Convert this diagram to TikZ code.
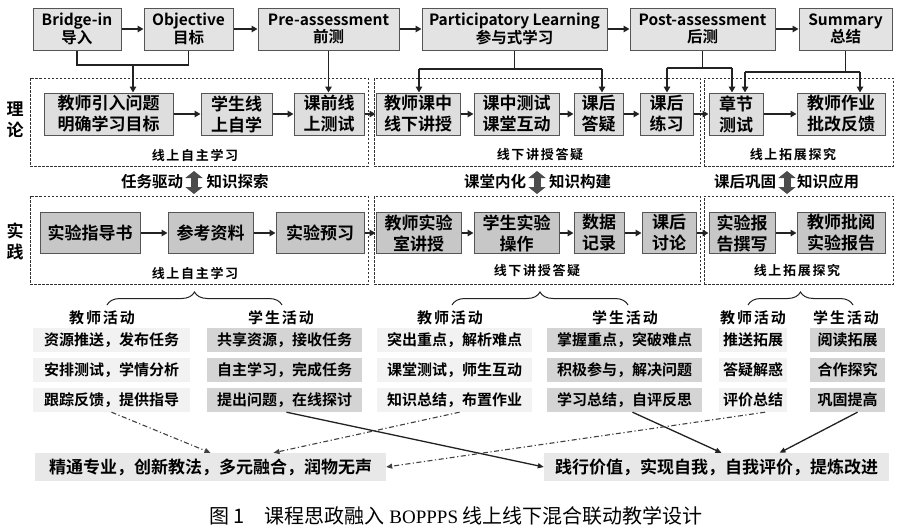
\documentclass[tikz,border=0pt]{standalone}
\usepackage{fontspec}
\setmainfont{Noto Sans CJK SC}[BoldFont=* Bold]
\newfontfamily\kaifont{Noto Sans CJK SC}[LetterSpace=13,BoldFont=* Bold]
\newfontfamily\serifl{Liberation Serif}
\usetikzlibrary{arrows.meta,decorations.pathreplacing,calc}
\definecolor{bordc}{HTML}{555555}
\definecolor{lnc}{HTML}{222222}
\tikzset{
  conn/.style={draw=lnc, line width=1.8pt},
  arr/.style={conn, -{Triangle[length=6pt,width=6.5pt]}},
  topbox/.style={draw=bordc, line width=1pt, fill=black!11, inner sep=0pt, minimum height=42pt, align=center, font=\bfseries\fontsize{15.5}{17.5}\selectfont},
  thbox/.style={draw=bordc, line width=1pt, fill=black!13, inner sep=0pt, minimum height=42pt, align=center, font=\bfseries\fontsize{17}{21}\selectfont},
  prbox/.style={thbox, fill=black!22, minimum height=41pt},
  region/.style={draw=black!80, dash pattern=on 2.5pt off 1.5pt, line width=0.8pt, minimum height=88pt, inner sep=0pt},
  seclabel/.style={font=\kaifont\bfseries\fontsize{13}{13}\selectfont},
  midlabel/.style={font=\bfseries\fontsize{15.5}{15.5}\selectfont},
  sidelabel/.style={font=\bfseries\fontsize{17}{17}\selectfont},
  dbl/.style={draw=black!70, line width=7pt, {Triangle[width=17pt,length=7pt]}-{Triangle[width=17pt,length=7pt]}},
  brc/.style={draw=lnc, line width=1pt, decorate, decoration={brace, amplitude=13pt}},
  acthead/.style={font=\kaifont\bfseries\fontsize{15}{15}\selectfont},
  tact/.style={fill=black!5, inner sep=0pt, minimum height=24pt, font=\bfseries\fontsize{15}{15}\selectfont},
  sact/.style={tact, fill=black!17},
  botbox/.style={fill=black!9, inner sep=0pt, minimum height=28pt, font=\bfseries\fontsize{17}{17}\selectfont},
  dashdot/.style={draw=black!75, line width=1.1pt, dash pattern=on 5pt off 2.5pt on 1.2pt off 2.5pt, -{Triangle[length=6pt,width=5pt]}},
  solidarr/.style={draw=lnc, line width=1.3pt, -{Triangle[length=6pt,width=5pt]}}
}
\begin{document}
\begin{tikzpicture}[x=1pt,y=-1pt]
\useasboundingbox (0,0) rectangle (913,530);
\fill[white] (0,0) rectangle (913,530);

% ---------- top row ----------
\node[topbox, minimum width=88pt]  (bri) at (77,29)    {Bridge-in\\导入};
\node[topbox, minimum width=89pt]  (obj) at (188.5,29) {Objective\\目标};
\node[topbox, minimum width=141pt] (pre) at (328.5,29) {Pre-assessment\\前测};
\node[topbox, minimum width=185pt] (par) at (514.5,29) {Participatory Learning\\参与式学习};
\node[topbox, minimum width=145pt] (pos) at (702.5,29) {Post-assessment\\后测};
\node[topbox, minimum width=93pt]  (sum) at (845.5,29) {Summary\\总结};
\draw[arr] (bri) -- (obj);
\draw[arr] (obj) -- (pre);
\draw[arr] (pre) -- (par);
\draw[arr] (par) -- (pos);
\draw[arr] (pos) -- (sum);

% ---------- regions ----------
\node[region, minimum width=338pt] (r1) at (199,122) {};
\node[region, minimum width=326pt] (r2) at (537,122) {};
\node[region, minimum width=189pt] (r3) at (798.5,122) {};
\node[region, minimum width=338pt] (q1) at (199,240) {};
\node[region, minimum width=326pt] (q2) at (537,240) {};
\node[region, minimum width=189pt] (q3) at (798.5,240) {};

% ---------- theory boxes ----------
\node[thbox, minimum width=129pt] (t1) at (108.5,114) {教师引入问题\\明确学习目标};
\node[thbox, minimum width=71pt]  (t2) at (236.5,114) {学生线\\上自学};
\node[thbox, minimum width=70pt]  (t3) at (329,114)   {课前线\\上测试};
\node[thbox, minimum width=84pt]  (t4) at (418,114)   {教师课中\\线下讲授};
\node[thbox, minimum width=85pt]  (t5) at (516.5,114) {课中测试\\课堂互动};
\node[thbox, minimum width=49pt]  (t6) at (598.5,114) {课后\\答疑};
\node[thbox, minimum width=53pt]  (t7) at (666.5,114) {课后\\练习};
\node[thbox, minimum width=54pt]  (t8) at (736,114)   {章节\\测试};
\node[thbox, minimum width=88pt]  (t9) at (841,114)   {教师作业\\批改反馈};
\foreach \a/\b in {t1/t2,t2/t3,t3/t4,t4/t5,t5/t6,t6/t7,t7/t8,t8/t9}
  \draw[arr] (\a) -- (\b);

% connectors from top row
\coordinate (j1) at (133,65);
\draw[conn] (bri.south) |- (j1);
\draw[conn] (obj.south) |- (j1);
\draw[arr] (j1) -- (j1 |- t1.north);
\draw[arr] (pre.south) -- (pre.south |- t3.north);
\coordinate (ja) at (419,69);
\coordinate (jb) at (602,69);
\draw[conn] (par.south) -- (par.south |- ja);
\draw[conn] (ja) -- (jb);
\draw[arr] (ja) -- (ja |- t4.north);
\draw[arr] (jb) -- (jb |- t6.north);
\coordinate (jc) at (667,68);
\coordinate (jd) at (732,68);
\draw[conn] (pos.south) -- (pos.south |- jc);
\draw[conn] (jc) -- (jd);
\draw[arr] (jc) -- (jc |- t7.north);
\draw[arr] (jd) -- (jd |- t8.north);
\coordinate (je) at (745,72);
\coordinate (jf) at (860,72);
\draw[conn] (sum.south) -- (sum.south |- je);
\draw[conn] (je) -- (jf);
\draw[arr] (je) -- (je |- t8.north);
\draw[arr] (jf) -- (jf |- t9.north);

% section labels theory
\node[seclabel] (s1) at (195,155) {线上自主学习};
\node[seclabel] (s2) at (540,155) {线下讲授答疑};
\node[seclabel] (s3) at (793,155) {线上拓展探究};

% side labels
\node[sidelabel] (l1) at (15,109) {理};
\node[sidelabel] (l2) at (15,130) {论};
\node[sidelabel] (l3) at (15,231) {实};
\node[sidelabel] (l4) at (15,252) {践};

% middle labels
\node[midlabel] (m1) at (152,182) {任务驱动};
\node[midlabel] (m2) at (237.5,182) {知识探索};
\draw[dbl] (194,171) -- (194,194);
\node[midlabel] (m3) at (495,182) {课堂内化};
\node[midlabel] (m4) at (580,182) {知识构建};
\draw[dbl] (537,171) -- (537,194);
\node[midlabel] (m5) at (745,182) {课后巩固};
\node[midlabel] (m6) at (828,182) {知识应用};
\draw[dbl] (787,171) -- (787,194);

% ---------- practice boxes ----------
\node[prbox, minimum width=100pt] (p1) at (90,233)    {实验指导书};
\node[prbox, minimum width=85pt]  (p2) at (210.5,233) {参考资料};
\node[prbox, minimum width=88pt]  (p3) at (320,233)   {实验预习};
\node[prbox, minimum width=85pt]  (p4) at (418.5,233) {教师实验\\室讲授};
\node[prbox, minimum width=85pt]  (p5) at (516.5,233) {学生实验\\操作};
\node[prbox, minimum width=50pt]  (p6) at (599,233)   {数据\\记录};
\node[prbox, minimum width=54pt]  (p7) at (669,233)   {课后\\讨论};
\node[prbox, minimum width=66pt]  (p8) at (742,233)   {实验报\\告撰写};
\node[prbox, minimum width=88pt]  (p9) at (841,233)   {教师批阅\\实验报告};
\foreach \a/\b in {p1/p2,p2/p3,p3/p4,p4/p5,p5/p6,p6/p7,p7/p8,p8/p9}
  \draw[arr] (\a) -- (\b);

\node[seclabel] (s4) at (195,273) {线上自主学习};
\node[seclabel] (s5) at (537,271) {线下讲授答疑};
\node[seclabel] (s6) at (797,271) {线上拓展探究};

% ---------- braces ----------
\draw[brc] (107,305) -- (282,305);
\draw[brc] (452,305) -- (628,305);
\draw[brc] (748,305) -- (853,305);

% ---------- activities ----------
\node[acthead] (h1) at (102,318) {教师活动};
\node[acthead] (h2) at (281,318) {学生活动};
\node[acthead] (h3) at (450,318) {教师活动};
\node[acthead] (h4) at (625,318) {学生活动};
\node[acthead] (h5) at (753,318) {教师活动};
\node[acthead] (h6) at (846,318) {学生活动};

\node[tact, minimum width=157pt] (a11) at (111.5,340) {资源推送，发布任务};
\node[tact, minimum width=157pt] (a12) at (111.5,370) {安排测试，学情分析};
\node[tact, minimum width=157pt] (a13) at (111.5,400) {跟踪反馈，提供指导};
\node[sact, minimum width=155pt] (a21) at (284.5,340) {共享资源，接收任务};
\node[sact, minimum width=155pt] (a22) at (284.5,370) {自主学习，完成任务};
\node[sact, minimum width=155pt] (a23) at (284.5,400) {提出问题，在线探讨};
\node[tact, minimum width=155pt] (a31) at (454.5,340) {突出重点，解析难点};
\node[tact, minimum width=155pt] (a32) at (454.5,370) {课堂测试，师生互动};
\node[tact, minimum width=155pt] (a33) at (454.5,400) {知识总结，布置作业};
\node[sact, minimum width=155pt] (a41) at (624.5,340) {掌握重点，突破难点};
\node[sact, minimum width=155pt] (a42) at (624.5,370) {积极参与，解决问题};
\node[sact, minimum width=155pt] (a43) at (624.5,400) {学习总结，自评反思};
\node[tact, minimum width=68pt] (a51) at (753,340) {推送拓展};
\node[tact, minimum width=68pt] (a52) at (753,370) {答疑解惑};
\node[tact, minimum width=68pt] (a53) at (753,400) {评价总结};
\node[sact, minimum width=75pt] (a61) at (847.5,340) {阅读拓展};
\node[sact, minimum width=75pt] (a62) at (847.5,370) {合作探究};
\node[sact, minimum width=75pt] (a63) at (847.5,400) {巩固提高};

% ---------- bottom ----------
\node[botbox, minimum width=351pt] (b1) at (210.5,467) {精通专业，创新教法，多元融合，润物无声};
\node[botbox, minimum width=345pt] (b2) at (716.5,467) {践行价值，实现自我，自我评价，提炼改进};

\draw[dashdot] (a13.south) -- (b1.north);
\draw[solidarr] ($(a23.south)+(2,0)$) -- (b2.west);
\draw[dashdot] ($(a33.south)+(5,0)$) -- ($(b1.north)+(63,0)$);
\draw[solidarr] ($(a43.south)+(8,0)$) -- ($(b2.north)+(5,0)$);
\draw[dashdot] ($(a53.south)+(12,0)$) -- (b1.east);
\draw[solidarr] ($(a63.south)+(10,0)$) -- ($(b2.north)+(63,0)$);

% caption
\node[font=\fontsize{20}{20}\selectfont] (cap) at (456,516) {图 1\quad 课程思政融入 {\serifl\fontsize{19}{19}\selectfont BOPPPS} 线上线下混合联动教学设计};
\end{tikzpicture}
\end{document}
